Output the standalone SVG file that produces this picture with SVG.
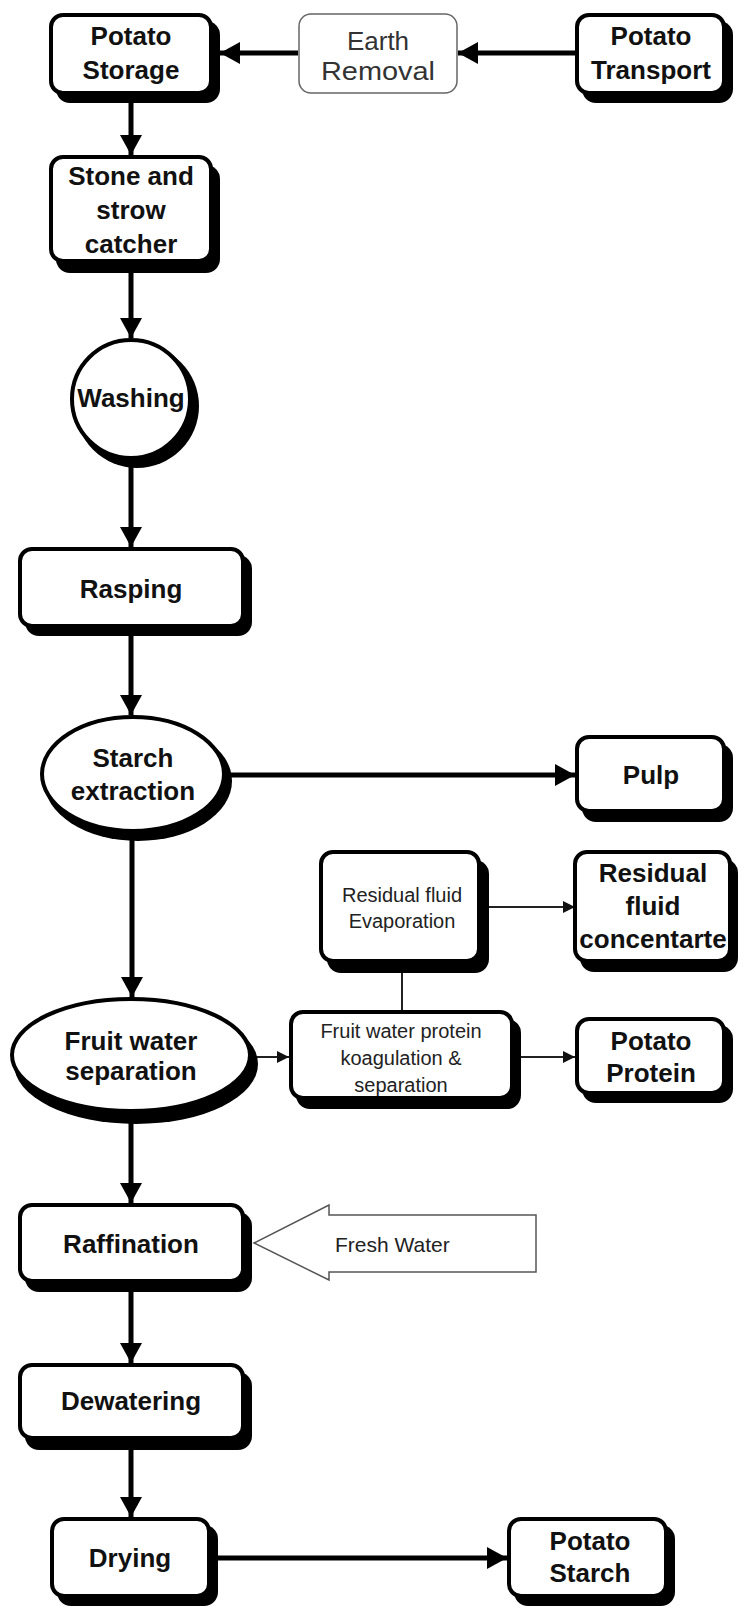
<svg xmlns="http://www.w3.org/2000/svg" width="743" height="1606" viewBox="0 0 743 1606">
<style>
.bg{fill:#fff}
.sh{fill:#000}
.box{fill:#fff;stroke:#000;stroke-width:4}
.tb{font-family:"Liberation Sans",Arial,sans-serif;font-weight:bold;font-size:26px;text-anchor:middle;fill:#111}
.tn{font-family:"Liberation Sans",Arial,sans-serif;font-size:20px;text-anchor:middle;fill:#222}
.thick{stroke:#000;stroke-width:5;fill:none}
.thin{stroke:#222;stroke-width:2;fill:none}
</style>
<defs>
<marker id="ah" viewBox="0 0 20 22" refX="20" refY="11" markerWidth="20" markerHeight="22" markerUnits="userSpaceOnUse" orient="auto"><path d="M0,0 L20,11 L0,22 Z" fill="#000"/></marker>
<marker id="as" viewBox="0 0 12 12" refX="12" refY="6" markerWidth="12" markerHeight="12" markerUnits="userSpaceOnUse" orient="auto"><path d="M0,0 L12,6 L0,12 Z" fill="#111"/></marker>
</defs>
<rect class="bg" x="0" y="0" width="743" height="1606"/>

<g id="connectors">
<line class="thick" x1="575" y1="53" x2="458" y2="53" marker-end="url(#ah)"/>
<line class="thick" x1="298" y1="53" x2="220" y2="53" marker-end="url(#ah)"/>
<line class="thick" x1="131" y1="103" x2="131" y2="155" marker-end="url(#ah)"/>
<line class="thick" x1="131" y1="273" x2="131" y2="338" marker-end="url(#ah)"/>
<line class="thick" x1="131" y1="462" x2="131" y2="547" marker-end="url(#ah)"/>
<line class="thick" x1="131" y1="636" x2="131" y2="715" marker-end="url(#ah)"/>
<line class="thick" x1="230" y1="775" x2="575" y2="775" marker-end="url(#ah)"/>
<line class="thick" x1="132" y1="838" x2="132" y2="997" marker-end="url(#ah)"/>
<line class="thin" x1="489" y1="907" x2="575" y2="907" marker-end="url(#as)"/>
<line class="thin" x1="402" y1="973" x2="402" y2="1010"/>
<line class="thin" x1="255" y1="1057" x2="289" y2="1057" marker-end="url(#as)"/>
<line class="thin" x1="521" y1="1057" x2="575" y2="1057" marker-end="url(#as)"/>
<line class="thick" x1="131" y1="1120" x2="131" y2="1203" marker-end="url(#ah)"/>
<line class="thick" x1="131" y1="1292" x2="131" y2="1363" marker-end="url(#ah)"/>
<line class="thick" x1="131" y1="1450" x2="131" y2="1517" marker-end="url(#ah)"/>
<line class="thick" x1="218" y1="1558" x2="507" y2="1558" marker-end="url(#ah)"/>
</g>

<g id="potato-storage">
<rect class="sh" x="56" y="21" width="164" height="82" rx="14"/>
<rect class="box" x="51" y="15" width="160" height="78" rx="12"/>
<text class="tb" x="131" y="45">Potato</text>
<text class="tb" x="131" y="79">Storage</text>
</g>

<g id="earth-removal">
<rect x="299" y="14" width="158" height="79" rx="12" fill="#fff" stroke="#666" stroke-width="1.5"/>
<text x="378" y="50" font-family="Liberation Sans, Arial, sans-serif" font-size="26" text-anchor="middle" fill="#333">Earth</text>
<text x="378" y="80" font-family="Liberation Sans, Arial, sans-serif" font-size="26" text-anchor="middle" fill="#333" textLength="114" lengthAdjust="spacingAndGlyphs">Removal</text>
</g>

<g id="potato-transport">
<rect class="sh" x="582" y="21" width="151" height="82" rx="14"/>
<rect class="box" x="577" y="15" width="147" height="78" rx="12"/>
<text class="tb" x="651" y="45">Potato</text>
<text class="tb" x="651" y="79">Transport</text>
</g>

<g id="stone-catcher">
<rect class="sh" x="56" y="165" width="164" height="108" rx="14"/>
<rect class="box" x="51" y="157" width="160" height="104" rx="12"/>
<text class="tb" x="131" y="185">Stone and</text>
<text class="tb" x="131" y="219">strow</text>
<text class="tb" x="131" y="253">catcher</text>
</g>

<g id="washing">
<circle class="sh" cx="137" cy="406" r="62"/>
<circle class="box" cx="131" cy="399" r="59"/>
<text class="tb" x="131" y="407">Washing</text>
</g>

<g id="rasping">
<rect class="sh" x="25" y="555" width="227" height="81" rx="14"/>
<rect class="box" x="20" y="549" width="223" height="77" rx="12"/>
<text class="tb" x="131" y="598">Rasping</text>
</g>

<g id="starch-extraction">
<ellipse class="sh" cx="138" cy="781" rx="94" ry="60"/>
<ellipse class="box" cx="133" cy="774" rx="91" ry="57"/>
<text class="tb" x="133" y="767">Starch</text>
<text class="tb" x="133" y="800">extraction</text>
</g>

<g id="pulp">
<rect class="sh" x="582" y="744" width="151" height="78" rx="14"/>
<rect class="box" x="577" y="737" width="147" height="74" rx="12"/>
<text class="tb" x="651" y="784">Pulp</text>
</g>

<g id="residual-evaporation">
<rect class="sh" x="327" y="860" width="162" height="113" rx="14"/>
<rect class="box" x="321" y="852" width="158" height="109" rx="12"/>
<text class="tn" x="402" y="902">Residual fluid</text>
<text class="tn" x="402" y="928">Evaporation</text>
</g>

<g id="residual-concentrate">
<rect class="sh" x="580" y="859" width="158" height="113" rx="14"/>
<rect class="box" x="575" y="852" width="155" height="109" rx="12"/>
<text class="tb" x="653" y="882">Residual</text>
<text class="tb" x="653" y="915">fluid</text>
<text class="tb" x="653" y="948">concentarte</text>
</g>

<g id="protein-koagulation">
<rect class="sh" x="296" y="1019" width="225" height="90" rx="14"/>
<rect class="box" x="291" y="1012" width="221" height="86" rx="12"/>
<text class="tn" x="401" y="1038" font-size="21">Fruit water protein</text>
<text class="tn" x="401" y="1065">koagulation &amp;</text>
<text class="tn" x="401" y="1092">separation</text>
</g>

<g id="potato-protein">
<rect class="sh" x="582" y="1025" width="151" height="78" rx="14"/>
<rect class="box" x="577" y="1019" width="147" height="74" rx="12"/>
<text class="tb" x="651" y="1050">Potato</text>
<text class="tb" x="651" y="1082">Protein</text>
</g>

<g id="fruit-water-separation">
<ellipse class="sh" cx="136" cy="1064" rx="122" ry="60"/>
<ellipse class="box" cx="131" cy="1055" rx="119" ry="56"/>
<text class="tb" x="131" y="1050">Fruit water</text>
<text class="tb" x="131" y="1080">separation</text>
</g>

<g id="raffination">
<rect class="sh" x="25" y="1212" width="227" height="80" rx="14"/>
<rect class="box" x="20" y="1205" width="223" height="76" rx="12"/>
<text class="tb" x="131" y="1253">Raffination</text>
</g>

<g id="fresh-water">
<polygon points="254,1243 329,1205 329,1215 536,1215 536,1272 329,1272 329,1280" fill="#fff" stroke="#555" stroke-width="1.5"/>
<text x="335" y="1252" font-family="Liberation Sans, Arial, sans-serif" font-size="21" fill="#222">Fresh Water</text>
</g>

<g id="dewatering">
<rect class="sh" x="25" y="1372" width="227" height="78" rx="14"/>
<rect class="box" x="20" y="1365" width="223" height="73" rx="12"/>
<text class="tb" x="131" y="1410">Dewatering</text>
</g>

<g id="drying">
<rect class="sh" x="57" y="1525" width="161" height="81" rx="14"/>
<rect class="box" x="52" y="1519" width="157" height="77" rx="12"/>
<text class="tb" x="130" y="1567">Drying</text>
</g>

<g id="potato-starch">
<rect class="sh" x="514" y="1525" width="161" height="81" rx="14"/>
<rect class="box" x="509" y="1519" width="157" height="77" rx="12"/>
<text class="tb" x="590" y="1550">Potato</text>
<text class="tb" x="590" y="1582">Starch</text>
</g>
</svg>
